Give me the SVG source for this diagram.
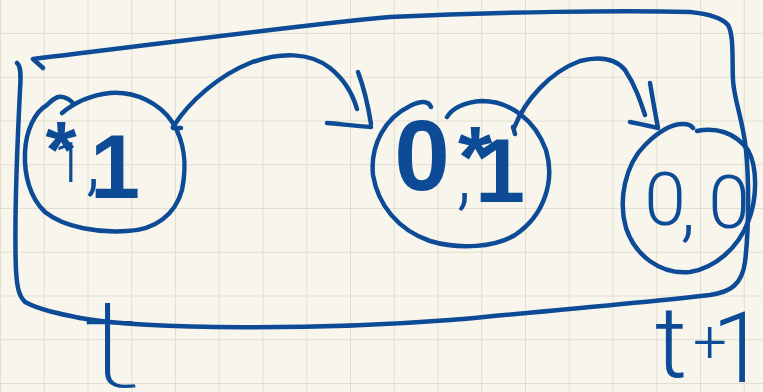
<svg xmlns="http://www.w3.org/2000/svg" width="763" height="392" viewBox="0 0 763 392">
<defs>
<style>
.ink{fill:none;stroke:#0d4b96;stroke-width:4.5;stroke-linecap:round;stroke-linejoin:round}
.hw{font-family:"Liberation Sans",Arial,sans-serif;fill:#0d4b96;text-anchor:middle}
.thin{font-family:Roboto,"Liberation Sans",sans-serif;font-weight:300}
.hair{font-family:Roboto,"Liberation Sans",sans-serif;font-weight:100}
.bold{font-weight:bold}
.bar{font-family:"Liberation Sans Narrow","Liberation Sans",sans-serif;font-weight:bold}
</style>
<pattern id="grid" patternUnits="userSpaceOnUse" x="0" y="33" width="43.75" height="43.75">
<path d="M0 0H43.75M0 0V43.75" stroke="#dcd8c9" stroke-width="1.6" fill="none"/>
</pattern>
</defs>
<rect width="763" height="392" fill="#f8f6ec"/>
<rect width="763" height="392" fill="url(#grid)"/>
<g id="frame">
<path class="ink" d="M43,68 L33,59 C150,45 300,25 390,17 C500,12 620,10 690,12 C710,14 722,18 728,25 C734,35 732,60 733,80 C734,100 743,120 746,150 C749,180 749,230 745,262 C742,285 730,292 710,295 C650,302 560,310 450,320 C320,330 150,330 80,318"/>
<path class="ink" d="M17,63 C21,66 21,75 20,90 C17,150 14,220 16,270 C17,288 19,296 25,302 C40,310 60,314 80,318"/>
</g>
<g id="node1">
<path class="ink" d="M62,113 C75,102 92,95 110,93 C135,91 160,103 173,123 C183,140 188,160 182,190 C175,215 155,230 127,231 C100,233 65,228 45,212 C30,198 24,175 25,152 C26,130 35,112 47,105 C52,100 55,98 58,97 C64,96 69,99 73,103"/>
<text class="hw"><tspan x="61" y="177" font-size="80" class="bold">*</tspan><tspan x="69" y="182" font-size="55" class="thin">1</tspan><tspan x="93" y="186" font-size="80" class="thin">,</tspan><tspan x="115" y="198" font-size="90" class="bar">1</tspan></text>
</g>
<g id="node2">
<path class="ink" d="M447,117 C452,108 465,102 482,101 C510,101 535,120 546,150 C555,180 545,215 515,235 C495,247 460,250 430,241 C398,230 378,205 373,175 C370,145 385,118 410,106 C420,101 428,100 431,107"/>
<text class="hw"><tspan x="422" y="190" font-size="100" class="bold">0</tspan><tspan x="464" y="200" font-size="80" class="thin">,</tspan><tspan x="475" y="187" font-size="88" class="bold">*</tspan><tspan x="500" y="202" font-size="90" class="bar">1</tspan></text>
</g>
<g id="node3">
<path class="ink" d="M697,131 C715,127 735,132 748,150 C758,168 757,200 748,222 C738,248 715,268 690,272 C660,275 635,255 626,228 C618,200 625,165 645,145 C660,130 672,124 683,124 C688,124 691,125 693,128"/>
<text class="hw thin"><tspan x="665" y="225" font-size="75">0</tspan><tspan x="688" y="232" font-size="80">,</tspan><tspan x="729" y="228" font-size="75">0</tspan></text>
</g>
<g id="connectors">
<path class="ink" d="M173,127 C190,100 220,75 250,63 C280,52 310,52 330,68 C345,80 353,95 357,109"/>
<path class="ink" d="M358,72 C364,88 368,105 371,124 M327,123 C340,124 355,126 371,127 M173,128 L181,128"/>
<path class="ink" d="M514,128 C525,100 550,72 580,61 C600,56 615,58 625,70 C635,85 640,100 645,115"/>
<path class="ink" d="M650,83 C652,95 655,112 658,128 M630,122 C640,124 650,126 658,128 M513,127 L515,134"/>
</g>
<g id="labels">
<text class="hw hair" font-size="125" transform="translate(113,387) scale(1.5,1)">t</text>
<text class="hw thin"><tspan x="671" y="377" font-size="100">t</tspan><tspan x="710" y="362" font-size="60">+</tspan><tspan x="739" y="382" font-size="98">1</tspan></text>
</g>
</svg>
